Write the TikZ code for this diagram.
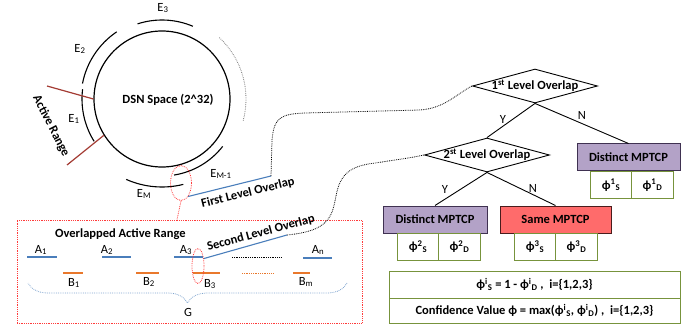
\documentclass[tikz,border=0pt]{standalone}
\usepackage{fontspec}
\setmainfont{Carlito}
\usetikzlibrary{shapes.geometric,decorations.pathreplacing,calc}
\definecolor{rangered}{HTML}{A33B33}
\definecolor{ovblue}{HTML}{4A7EBB}
\definecolor{ovorange}{HTML}{E9782C}
\definecolor{markred}{HTML}{FF3B3B}
\definecolor{purplefill}{HTML}{B3A2C7}
\definecolor{purpleline}{HTML}{3F3151}
\definecolor{samefill}{HTML}{FF6B6B}
\definecolor{sameline}{HTML}{4A1C1C}
\definecolor{cellgreen}{HTML}{77933C}
\newcommand{\ph}{ϕ}
\newcommand{\fs}{\fontsize{12.5}{14}\selectfont}
\begin{document}
\begin{tikzpicture}[x=1pt,y=-1pt,
  txt/.style={font=\fs, inner sep=0pt},
  btxt/.style={font=\fs\bfseries, inner sep=0pt},
  earc/.style={line width=1.1pt},
  rangeline/.style={draw=rangered, line width=1.2pt},
  aline/.style={draw=ovblue, line width=1.3pt},
  bline/.style={draw=ovorange, line width=1.3pt},
  redmark/.style={draw=markred, densely dotted, line width=0.8pt},
  link/.style={densely dotted, line width=0.8pt},
  decision/.style={diamond, draw, line width=0.9pt, inner sep=0pt, aspect=3.7,
    minimum width=125pt, minimum height=34pt, font=\fs\bfseries},
  mpbox/.style={rectangle, draw, line width=1pt, minimum height=27pt,
    font=\fs\bfseries},
  cell/.style={rectangle, draw=cellgreen, line width=1pt, minimum width=41.5pt,
    minimum height=27pt, font=\fs\bfseries},
  treeline/.style={line width=0.9pt}]
\useasboundingbox (0,0) rectangle (699,326);

% ---- DSN ring ----
\coordinate (c) at (162,99);
\node[circle, draw, line width=1.2pt, minimum size=136pt, inner sep=0pt] (dsn) at (c) {};
\node[btxt] (dsnlbl) at (168,100) {DSN Space (2\^{}32)};
\draw[earc] (c) ++(67:79pt) arc[start angle=67, end angle=108, radius=79pt];
\draw[earc] (c) ++(124:81pt) arc[start angle=124, end angle=169, radius=81pt];
\draw[earc] (c) ++(173:80pt) arc[start angle=173, end angle=212, radius=80pt];
\draw[earc] (c) ++(-81:77pt) arc[start angle=-81, end angle=-38, radius=77pt];
\draw[earc] (c) ++(-114:88pt) arc[start angle=-114, end angle=-76, radius=88pt];
\draw[gray, densely dotted, line width=0.8pt] (c) ++(-15:84pt) arc[start angle=-15, end angle=47, radius=84pt];
\node[txt] (e3) at (163,8) {E\textsubscript{3}};
\node[txt] (e2) at (80,49) {E\textsubscript{2}};
\node[txt] (e1) at (74,119) {E\textsubscript{1}};
\node[txt] (em) at (144,194) {E\textsubscript{M}};
\node[txt] (em1) at (221,174) {E\textsubscript{M-1}};

% active range bounds
\coordinate (r1a) at (47,86);
\coordinate (r2a) at (67,165);
\draw[rangeline] (r1a) -- (dsn.180);
\draw[rangeline] (r2a) -- (dsn.-148);
\node[btxt, rotate=-63] (arlbl) at (51,126) {Active Range};

% ---- overlap region ----
\node[ellipse, redmark, minimum width=21pt, minimum height=35pt, inner sep=0pt] (ov1) at (181,183) {};
\node[rectangle, redmark, minimum width=345pt, minimum height=103pt, inner sep=0pt] (ovbox) at (189.5,271.5) {};
\draw[redmark] (ov1.south) -- (ovbox.north -| 177,0);
\node[btxt, anchor=west] (oartitle) at (55,234) {Overlapped Active Range};

\draw[aline] (27,257) -- (57,257);
\draw[aline] (102,257) -- (131,257);
\draw[aline] (174,257) -- (203,257);
\draw[link, black] (232,257) -- (282,257);
\draw[aline] (303,258) -- (332,258);
\node[txt] (a1) at (41,250) {A\textsubscript{1}};
\node[txt] (a2) at (107,250) {A\textsubscript{2}};
\node[txt] (a3) at (186,250) {A\textsubscript{3}};
\node[txt] (an) at (318,250) {A\textsubscript{n}};

\draw[bline] (63,273) -- (83,273);
\draw[bline] (136,273) -- (159,273);
\draw[bline] (193,273) -- (220,273);
\draw[draw=ovorange, densely dotted, line width=0.8pt] (242,273) -- (273,273);
\draw[bline] (293,273) -- (310,273);
\node[txt] (b1) at (74,283) {B\textsubscript{1}};
\node[txt] (b2) at (149,282) {B\textsubscript{2}};
\node[txt] (b3) at (210,284) {B\textsubscript{3}};
\node[txt] (bm) at (306,282) {B\textsubscript{m}};

\node[ellipse, redmark, minimum width=12pt, minimum height=35pt, inner sep=0pt] (ov2) at (198,266) {};

\draw[draw=ovblue!70, densely dotted, line width=0.8pt,
  decorate, decoration={brace, amplitude=20pt}] (347,283) -- (28,283);
\node[txt] (g) at (188,312) {G};

% ---- overlap links ----
\coordinate (fl) at (271,176);
\coordinate (sl) at (287,235);
\draw[aline, line width=1.1pt] (ov1.-62) -- (fl);
\node[btxt, rotate=14] (fllbl) at (248,193) {First Level Overlap};
\draw[aline, line width=1.1pt] (ov2.52) -- (sl);
\node[btxt, rotate=15] (sllbl) at (261,233) {Second Level Overlap};

% ---- decision tree ----
\node[decision] (d1) at (535,86) {\makebox[66pt]{1\textsuperscript{st} Level Overlap}};
\node[decision] (d2) at (487,155) {\makebox[66pt]{2\textsuperscript{st} Level Overlap}};

\draw[link] (fl) -- (272,140) .. controls (274,118) and (280,114) .. (305,113)
  -- (420,110) .. controls (445,108) and (455,95) .. (d1.west);
\draw[link] (sl) .. controls (328,231) and (332,218) .. (336,196)
  .. controls (340,174) and (350,166) .. (375,163)
  .. controls (395,160) and (410,158) .. (d2.west);

\node[mpbox, fill=purplefill, draw=purpleline, minimum width=103pt] (mp1) at (628.5,157.5) {Distinct MPTCP};
\node[cell] (p1s) at (611,185) {\ph\textsuperscript{1}\textsubscript{S}};
\node[cell] (p1d) at (652.5,185) {\ph\textsuperscript{1}\textsubscript{D}};

\node[mpbox, fill=purplefill, draw=purpleline, minimum width=104pt] (mp2) at (435,219.5) {Distinct MPTCP};
\node[cell] (p2s) at (418,246.5) {\ph\textsuperscript{2}\textsubscript{S}};
\node[cell] (p2d) at (459.5,246.5) {\ph\textsuperscript{2}\textsubscript{D}};

\node[mpbox, fill=samefill, draw=sameline, minimum width=111pt] (mp3) at (555.5,219.5) {Same MPTCP};
\node[cell] (p3s) at (535,246.5) {\ph\textsuperscript{3}\textsubscript{S}};
\node[cell] (p3d) at (576.5,246.5) {\ph\textsuperscript{3}\textsubscript{D}};

\draw[treeline] (d1.south) -- (d2.north);
\draw[treeline] (d1.south) -- (mp1.north);
\draw[treeline] (d2.south) -- (mp2.north);
\draw[treeline] (d2.south) -- (mp3.north);
\node[txt] (y1) at (503,119) {Y};
\node[txt] (n1) at (582,115) {N};
\node[txt] (y2) at (445,189) {Y};
\node[txt] (n2) at (533,188) {N};

% ---- formulas ----
\node[cell, minimum width=291pt, minimum height=27pt] (f1) at (534.5,284.5)
  {\ph\textsuperscript{i}\textsubscript{S} = 1 - \ph\textsuperscript{i}\textsubscript{D} ,\ \ i=\{1,2,3\}};
\node[cell, minimum width=291pt, minimum height=25pt] (f2) at (534.5,310.5)
  {Confidence Value \ph\ = max(\ph\textsuperscript{i}\textsubscript{S}, \ph\textsuperscript{i}\textsubscript{D}) ,\ \ i=\{1,2,3\}};
\end{tikzpicture}
\end{document}
